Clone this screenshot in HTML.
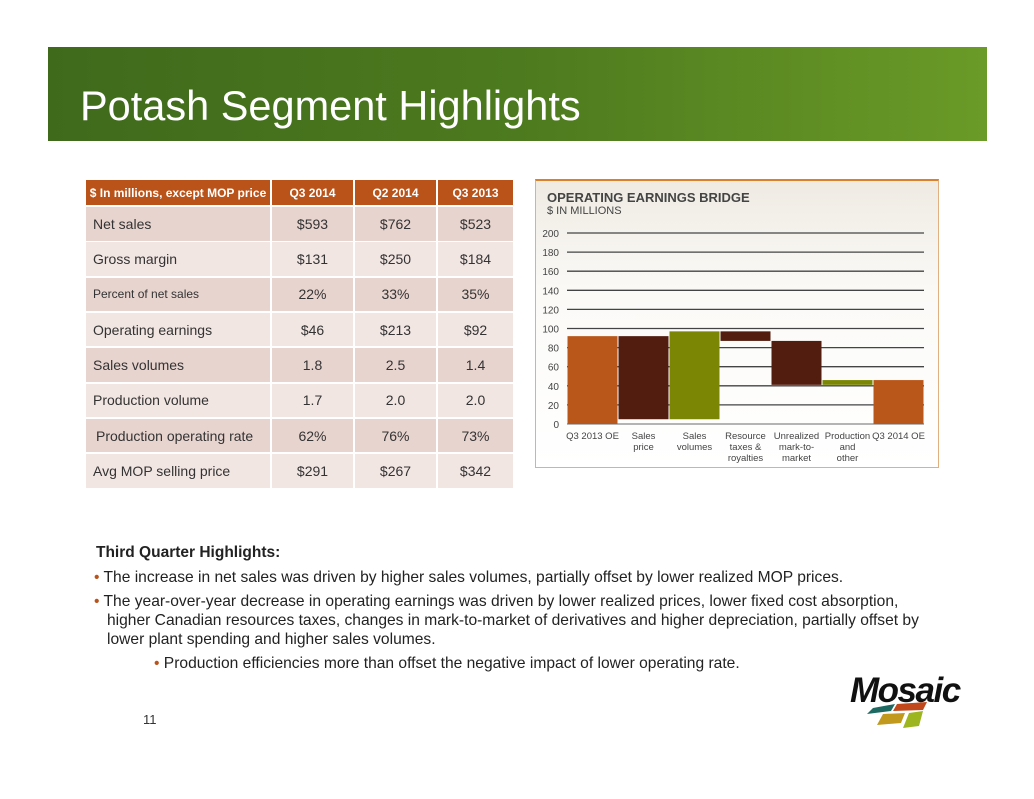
<!DOCTYPE html>
<html><head><meta charset="utf-8"><style>
body{margin:0;width:1034px;height:799px;background:#fff;position:relative;overflow:hidden;font-family:"Liberation Sans",Arial,sans-serif}
.abs{position:absolute}
.cell{position:absolute;display:flex;align-items:center;font-size:14px;color:#333;box-sizing:border-box}
</style></head><body>
<div class="abs" style="left:48px;top:47px;width:939px;height:94px;background:linear-gradient(90deg,#3f6a1c 0%,#4d7a1e 50%,#6a9a27 100%)"></div>
<div class="abs" style="left:80px;top:82px;font-size:41.5px;color:#fff">Potash Segment Highlights</div>

<div id="tbl"></div>

<div class="abs" style="left:535px;top:179px;width:404px;height:289px;border:1px solid #e0b080;border-top:2px solid #d9822b;background:linear-gradient(180deg,#efebe3 0%,#fbfaf7 40%,#fff 100%);box-sizing:border-box"></div>
<div class="abs" style="left:547px;top:190px;font-size:13px;font-weight:bold;color:#444">OPERATING EARNINGS BRIDGE</div>
<div class="abs" style="left:547px;top:205px;font-size:11px;color:#444">$ IN MILLIONS</div>
<svg id="chart" class="abs" style="left:0;top:0" width="1034" height="799"></svg>

<div class="abs" style="left:96px;top:544px;font-size:15.5px;font-weight:bold;color:#222">Third Quarter Highlights:</div>
<div class="abs" style="left:94px;top:568px;width:835px;font-size:15.6px;color:#222;line-height:19px">
<div style="margin-bottom:5px"><span style="color:#b9531a">•</span> The increase in net sales was driven by higher sales volumes, partially offset by lower realized MOP prices.</div>
<div style="margin-bottom:5px;padding-left:13px;text-indent:-13px"><span style="color:#b9531a">•</span> The year-over-year decrease in operating earnings was driven by lower realized prices, lower fixed cost absorption, higher Canadian resources taxes, changes in mark-to-market of derivatives and higher depreciation, partially offset by lower plant spending and higher sales volumes.</div>
<div style="padding-left:60px"><span style="color:#b9531a">•</span> Production efficiencies more than offset the negative impact of lower operating rate.</div>
</div>
<div class="abs" style="left:143px;top:712px;font-size:13px;color:#333">11</div>
<div class="abs" style="left:850px;top:671px;font-size:35px;font-weight:bold;font-style:italic;color:#111;letter-spacing:-1.5px">Mosaic</div>
<svg class="abs" style="left:865px;top:702px" width="80" height="28">
<polygon points="8,6 30,2 26,9 2,12" fill="#1e6a63"/><polygon points="32,2 62,0 58,8 28,9" fill="#c0481a"/>
<polygon points="18,12 40,11 36,21 12,23" fill="#c19a1d"/><polygon points="44,11 58,9 54,24 38,26" fill="#9db51f"/></svg>

<script>
const rowLabels=["Net sales","Gross margin","Percent of net sales","Operating earnings","Sales volumes","Production volume","Production operating rate","Avg MOP selling price"];
const colQ32014=["$593","$131","22%","$46","1.8","1.7","62%","$291"];
const colQ22014=["$762","$250","33%","$213","2.5","2.0","76%","$267"];
const colQ32013=["$523","$184","35%","$92","1.4","2.0","73%","$342"];
const heads=["$ In millions, except MOP price","Q3 2014","Q2 2014","Q3 2013"];
const cx=[86,272,355,438],cw=[184,81,81,75];
const tbl=document.getElementById('tbl');
function mk(x,y,w,h,txt,bg,extra){const d=document.createElement('div');d.className='cell';d.style.cssText+=`left:${x}px;top:${y}px;width:${w}px;height:${h}px;background:${bg};`+extra;d.textContent=txt;tbl.appendChild(d);return d;}
heads.forEach((h,i)=>{const d=mk(cx[i],180,cw[i],25,h,'#b9531a','color:#fff;font-weight:bold;font-size:12px;justify-content:center;');

});
rowLabels.forEach((l,r)=>{const y=207+r*35.3,bg=r%2?'#f2e6e3':'#e8d4cf';
const cols=[l,colQ32014[r],colQ22014[r],colQ32013[r]];
cols.forEach((t,i)=>{const d=mk(cx[i],y,cw[i],33.5,t,bg,i?'justify-content:center;':'padding-left:'+(r==6?10:7)+'px;'+(r==2?'font-size:12px;':''));

});});

const categories=["Q3 2013 OE","Sales\nprice","Sales\nvolumes","Resource\ntaxes &\nroyalties","Unrealized\nmark-to-\nmarket","Production\nand\nother","Q3 2014 OE"];
const barStart=[0,92,5,97,87,41,0];
const barEnd=[92,5,97,87,41,46,46];
const barColor=["#b9571a","#521c0f","#7b8704","#521c0f","#521c0f","#7b8704","#b9571a"];
const yTicks=[0,20,40,60,80,100,120,140,160,180,200];
const svg=document.getElementById('chart'),NS='http://www.w3.org/2000/svg';
const x0=567,x1=924,y0=424,yTop=233,yMax=200;
const Y=v=>y0-(v/yMax)*(y0-yTop);
const bw=(x1-x0)/categories.length;
const X=i=>x0+i*bw;
function el(t,a){const e=document.createElementNS(NS,t);for(const k in a)e.setAttribute(k,a[k]);svg.appendChild(e);return e;}
yTicks.forEach(v=>{const l=el('line',{x1:x0,x2:x1,y1:Y(v),y2:Y(v),stroke:v?'#444':'#888','stroke-width':1.3});


const t=el('text',{x:559,y:Y(v)+4,'text-anchor':'end','font-size':10,fill:'#444','font-family':'Liberation Sans'});t.textContent=v;

});
categories.forEach((c,i)=>{const lo=Math.min(barStart[i],barEnd[i]),hi=Math.max(barStart[i],barEnd[i]);
const r=el('rect',{x:X(i)+0.5,y:Y(hi),width:bw-1,height:Y(lo)-Y(hi),fill:barColor[i]});


c.split('\n').forEach((ln,j)=>{const t=el('text',{x:X(i)+bw/2,y:y0+15+j*11,'text-anchor':'middle','font-size':9.5,fill:'#444','font-family':'Liberation Sans'});t.textContent=ln;

});});
</script>
</body></html>
